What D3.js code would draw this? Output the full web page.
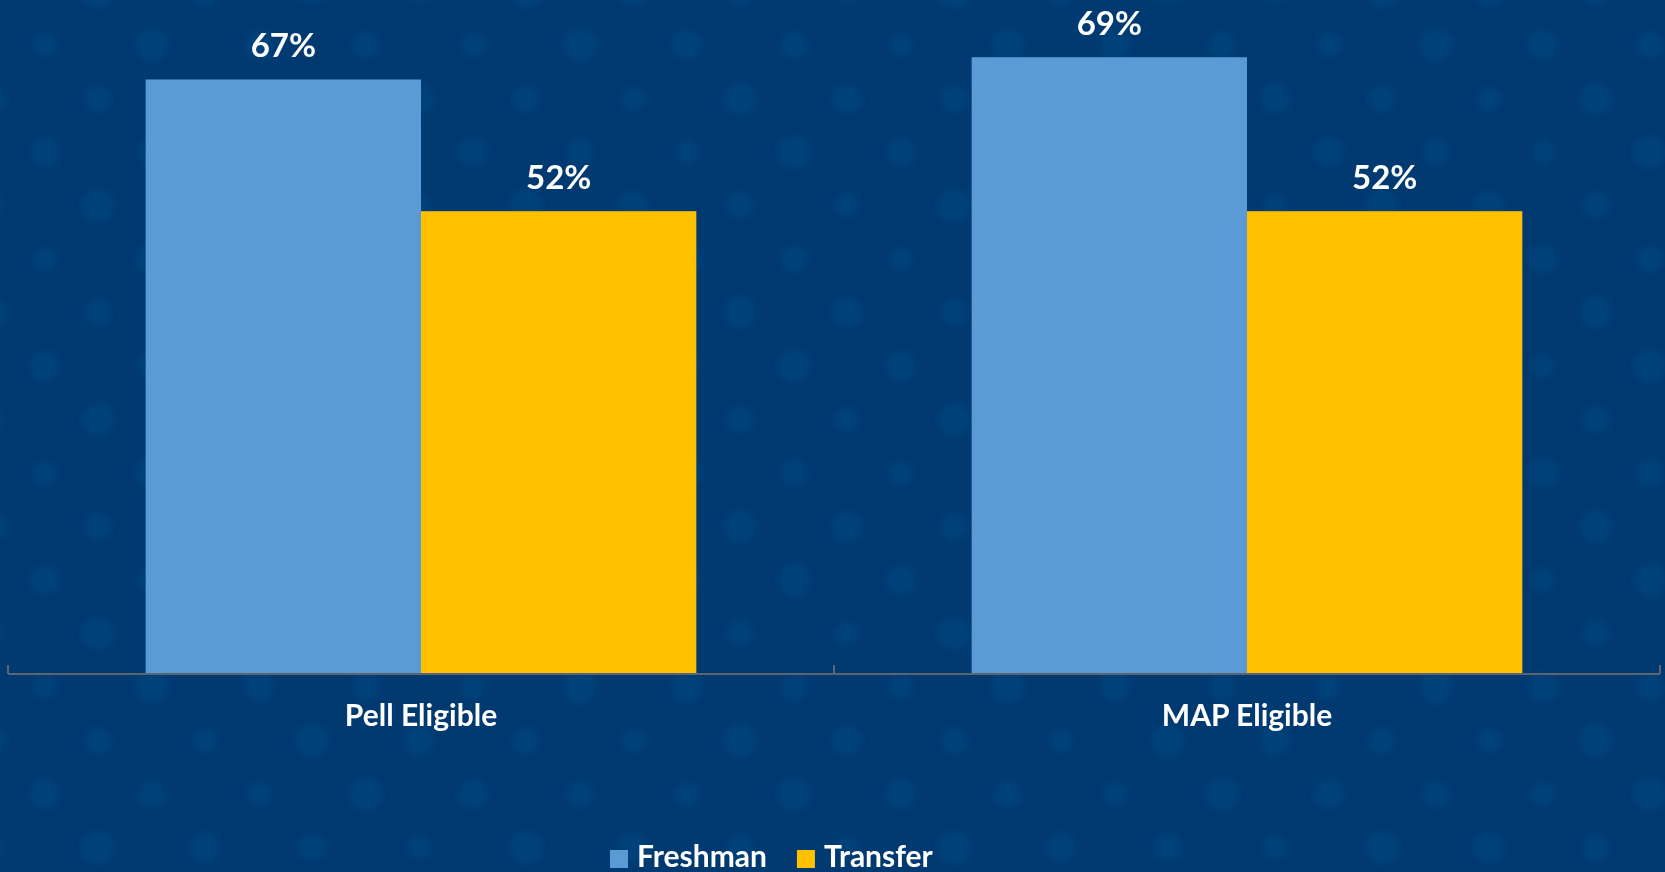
<!DOCTYPE html>
<html>
<head>
<meta charset="utf-8">
<script src="https://cdn.jsdelivr.net/npm/d3@7"></script>
<style>
  html, body { margin: 0; padding: 0; background: #003a70; overflow: hidden; }
  text { font-family: Lato, "Open Sans", sans-serif; font-weight: bold; fill: #ffffff; }
</style>
</head>
<body>
<script>
// chart data
var categories = ["Pell Eligible", "MAP Eligible"];
var series = ["Freshman", "Transfer"];
var freshman = [0.668, 0.693];
var transfer = [0.52, 0.52];
var colors = ["#5b9bd5", "#ffc000"];

window.onload = drawChart();

function drawChart(){
    var width = 1665,
        height = 872;

    var svg = d3.select("body")
        .append("svg")
        .attr("width", width)
        .attr("height", height);

    //background with faint dots
    svg.append("rect")
        .attr("width", width)
        .attr("height", height)
        .attr("fill", "#003a70");

    var defs = svg.append("defs");
    defs.append("filter")
        .attr("id", "soft")
        .append("feGaussianBlur")
        .attr("stdDeviation", 3);

    var dots = [];
    for (var r = -1; r < 18; r++){
        for (var c = -1; c < 17; c++){
            var off = (r % 2 === 0) ? 45 : 98;
            dots.push({
                x: off + c * 107,
                y: 45 + r * 53.5,
                r: 12 + ((r * 5 + c * 3 + 12) % 4) * 1.5
            });
        }
    }
    svg.append("g")
        .attr("filter", "url(#soft)")
        .selectAll("circle")
        .data(dots)
        .enter()
        .append("circle")
        .attr("cx", function(d){ return d.x; })
        .attr("cy", function(d){ return d.y; })
        .attr("r", function(d){ return d.r; })
        .attr("fill", "#0d4a84")
        .attr("opacity", 0.45);

    //scales
    var x0 = d3.scaleBand()
        .domain(categories)
        .range([8, 1660])
        .padding(0);

    var x1 = d3.scaleBand()
        .domain(series)
        .range([0, x0.bandwidth()])
        .paddingInner(0)
        .paddingOuter(0.5);

    var y = d3.scaleLinear()
        .domain([0, 0.75])
        .range([674, 674 - 0.75 * 890]);

    var rows = categories.map(function(cat, i){
        return {
            category: cat,
            values: [
                {key: series[0], value: freshman[i]},
                {key: series[1], value: transfer[i]}
            ]
        };
    });

    //bars
    var groups = svg.selectAll(".group")
        .data(rows)
        .enter()
        .append("g")
        .attr("class", "group")
        .attr("transform", function(d){ return "translate(" + x0(d.category) + ",0)"; });

    groups.selectAll("rect")
        .data(function(d){ return d.values; })
        .enter()
        .append("rect")
        .attr("x", function(d){ return x1(d.key); })
        .attr("y", function(d){ return y(d.value); })
        .attr("width", x1.bandwidth())
        .attr("height", function(d){ return y(0) - y(d.value); })
        .attr("fill", function(d){ return colors[series.indexOf(d.key)]; });

    //value labels
    groups.selectAll(".val")
        .data(function(d){ return d.values; })
        .enter()
        .append("text")
        .attr("class", "val")
        .attr("x", function(d){ return x1(d.key) + x1.bandwidth() / 2; })
        .attr("y", function(d){ return y(d.value) - 22; })
        .attr("text-anchor", "middle")
        .style("font-size", "33px")
        .text(function(d){ return d3.format(".0%")(d.value); });

    //x axis
    var axis = svg.append("g")
        .attr("transform", "translate(0," + y(0) + ")")
        .call(d3.axisBottom(x0).tickSize(0).tickFormat(""));
    axis.select(".domain").remove();

    axis.append("line")
        .attr("x1", 8).attr("x2", 1660)
        .attr("y1", 0).attr("y2", 0)
        .attr("stroke", "#5a6473")
        .attr("stroke-width", 2);

    var edges = [8].concat(categories.map(function(c){ return x0(c) + x0.bandwidth(); }));
    axis.selectAll(".edge")
        .data(edges)
        .enter()
        .append("line")
        .attr("class", "edge")
        .attr("x1", function(d){ return d; })
        .attr("x2", function(d){ return d; })
        .attr("y1", -9)
        .attr("y2", 0)
        .attr("stroke", "#5a6473")
        .attr("stroke-width", 2);

    axis.selectAll(".cat")
        .data(categories)
        .enter()
        .append("text")
        .attr("class", "cat")
        .attr("x", function(d){ return x0(d) + x0.bandwidth() / 2; })
        .attr("y", 52)
        .attr("text-anchor", "middle")
        .style("font-size", "30px")
        .text(function(d){ return d; });

    //legend
    var legend = svg.append("g").attr("class", "legend");
    var lx = 0;
    var items = legend.selectAll(".item")
        .data(series)
        .enter()
        .append("g")
        .attr("class", "item");

    items.append("rect")
        .attr("width", 18)
        .attr("height", 18)
        .attr("y", -17)
        .attr("fill", function(d, i){ return colors[i]; });

    items.append("text")
        .attr("x", 27)
        .attr("y", 0)
        .style("font-size", "30px")
        .text(function(d){ return d; });

    items.each(function(){
        var g = d3.select(this);
        g.attr("transform", "translate(" + lx + ",0)");
        lx += 27 + g.select("text").node().getComputedTextLength() + 30;
    });
    legend.attr("transform", "translate(610,867)");
};
</script>
</body>
</html>
